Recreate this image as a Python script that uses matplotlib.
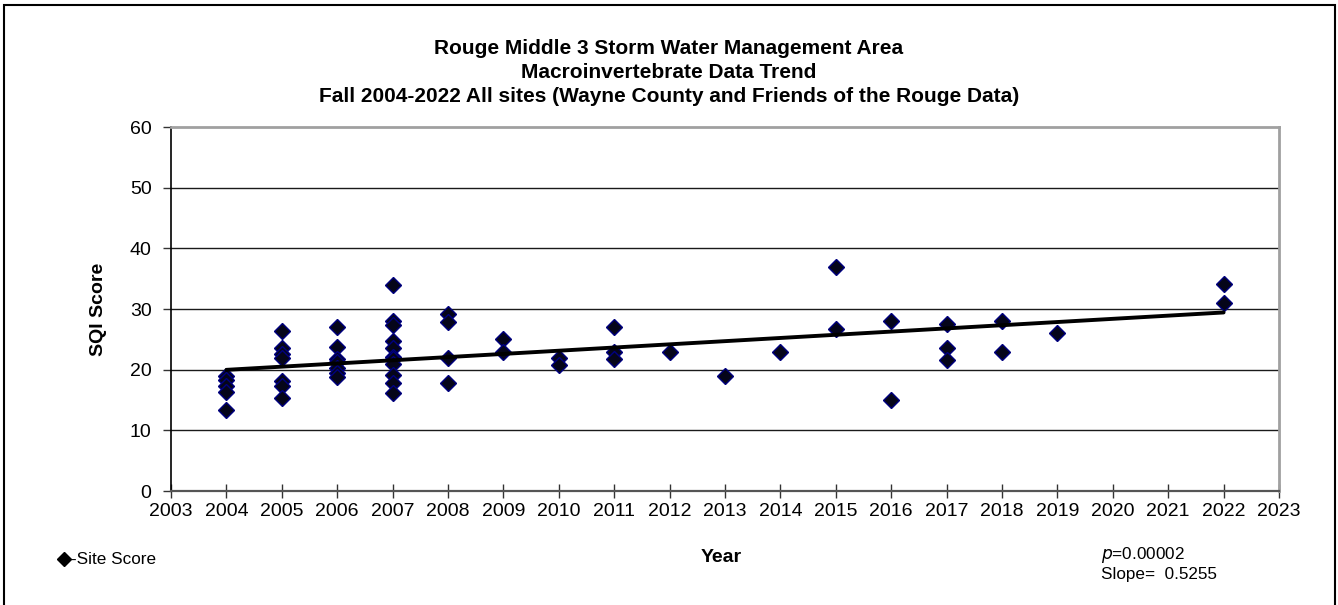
import matplotlib
matplotlib.use("Agg")
import matplotlib.pyplot as plt
from matplotlib.patches import Rectangle
from matplotlib.lines import Line2D
import numpy as np

plt.rcParams['font.family'] = ['Liberation Sans', 'DejaVu Sans']

# Fall SQI scores per site, grouped by sampling year
years = [2004, 2005, 2006, 2007, 2008, 2009, 2010, 2011, 2012, 2013,
         2014, 2015, 2016, 2017, 2018, 2019, 2022]
scores = [
    [19.0, 18.3, 17.3, 16.4, 13.3],
    [26.3, 23.5, 22.6, 21.9, 18.2, 17.3, 15.4],
    [27.0, 23.8, 21.8, 21.2, 20.3, 19.5, 18.8],
    [34.0, 28.1, 27.3, 24.7, 23.6, 22.1, 21.8, 20.9, 19.2, 17.8, 16.2],
    [29.2, 27.9, 21.9, 17.8],
    [25.0, 22.9],
    [22.0, 20.8],
    [27.0, 22.9, 21.7],
    [22.9],
    [18.9],
    [22.9],
    [37.0, 26.7],
    [28.0, 15.0],
    [27.5, 23.5, 21.6],
    [28.0, 22.9],
    [26.0],
    [34.1, 31.0],
]

# Trend line stated on the chart
slope = 0.5255
p_value = "0.00002"
trend_mid_year = 2013
trend_mid_value = 24.7

x_ticks = list(range(2003, 2024))
y_ticks = [0, 10, 20, 30, 40, 50, 60]

fig = plt.figure(figsize=(13.38, 6.05), dpi=100)
ax = fig.add_axes([171 / 1338, 1 - 491 / 605, (1279 - 171) / 1338, (491 - 127) / 605])

# gridlines
for yv in y_ticks[1:-1]:
    ax.axhline(yv, color='#1a1a1a', lw=1.0, zorder=1)

xs = np.concatenate([[yr] * len(v) for yr, v in zip(years, scores)])
ys = np.concatenate([v for v in scores])
ax.plot(xs, ys, linestyle='none', marker='D', ms=7.8, mfc='#05051a',
        mec='#000080', mew=1.0, zorder=3)

tx = np.array([years[0], years[-1]])
ty = trend_mid_value + slope * (tx - trend_mid_year)
ax.plot(tx, ty, color='black', lw=2.8, solid_capstyle='round', zorder=4)

ax.set_xlim(2003, 2023)
ax.set_ylim(0, 60)
ax.set_xticks(x_ticks)
ax.set_yticks(y_ticks)
ax.tick_params(axis='x', direction='inout', length=10, width=1, labelsize=14,
               color='#333333', pad=4)
ax.tick_params(axis='y', direction='out', length=6, width=1, labelsize=14,
               color='#333333', pad=8)
for side, col, lw in [('left', 'black', 1.2), ('bottom', '#555555', 1.6),
                      ('top', '#a0a0a0', 2.0), ('right', '#a0a0a0', 2.0)]:
    ax.spines[side].set_color(col)
    ax.spines[side].set_linewidth(lw)

ax.set_ylabel('SQI Score', fontsize=14, fontweight='bold', labelpad=16)

title_lines = [
    'Rouge Middle 3 Storm Water Management Area',
    'Macroinvertebrate Data Trend',
    'Fall 2004-2022 All sites (Wayne County and Friends of the Rouge Data)',
]
for line, ypx in zip(title_lines, [48, 73, 97]):
    fig.text(0.5, 1 - ypx / 605, line, ha='center', va='center',
             fontsize=15, fontweight='bold')

fig.text(721 / 1338, 1 - 558 / 605, 'Year', ha='center', va='center',
         fontsize=14, fontweight='bold')

# legend entry
fig.add_artist(Line2D([64 / 1338], [1 - 559 / 605], marker='D', ms=7,
                      color='black', linestyle='none',
                      transform=fig.transFigure))
fig.text(71 / 1338, 1 - 559 / 605, '-Site Score', ha='left', va='center',
         fontsize=12.3)

fig.text(1101 / 1338, 1 - 555 / 605, r'$p$' + '=' + p_value, ha='left',
         va='center', fontsize=12.3)
fig.text(1101 / 1338, 1 - 575 / 605, f'Slope=  {slope}', ha='left',
         va='center', fontsize=12.3)

# outer frame
fig.add_artist(Rectangle((4 / 1338, -0.05), (1335 - 4) / 1338, 1 - 5 / 605 + 0.05,
                         transform=fig.transFigure, fill=False,
                         edgecolor='black', lw=1.5))

fig.savefig('out.png', dpi=100)
